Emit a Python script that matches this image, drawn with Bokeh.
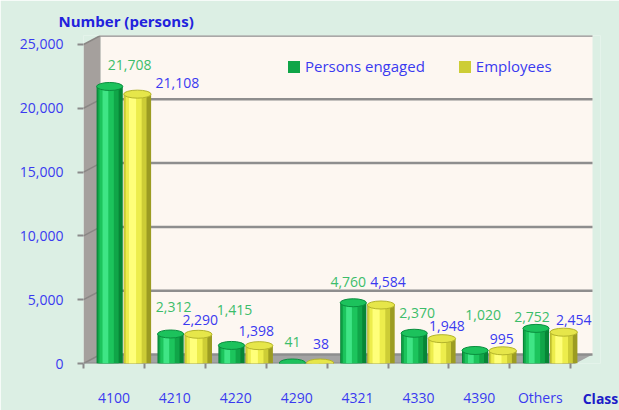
from bokeh.plotting import figure
from bokeh.models import (ColumnDataSource, Range1d, FixedTicker, NumeralTickFormatter,
                          Legend, LegendItem)
from bokeh.transform import dodge
from bokeh.embed import file_html
from bokeh.resources import INLINE
from bokeh.core.properties import value

# ---------------- data ----------------
classes = ["4100", "4210", "4220", "4290", "4321", "4330", "4390", "Others"]
persons_engaged = [21708, 2312, 1415, 41, 4760, 2370, 1020, 2752]
employees = [21108, 2290, 1398, 38, 4584, 1948, 995, 2454]
y_ticks = [0, 5000, 10000, 15000, 20000, 25000]

# value-label nudges in pixels (right, up)
pe_label_dx = [20, 3, 3, 0, -5, 3, 8, -4]
pe_label_dy = [21, 27, 35, 21, 21, 20, 35, 11]
emp_label_dx = [40, 2, -3, 1, 7, 5, -1, 10]
emp_label_dy = [11, 14, 15, 19, 23, 13, 12, 12]

# ---------------- layout ----------------
W, H = 619, 410
LEFT, RIGHT, TOP, BOTTOM = 83, 600, 35, 364
CAT_PX = 60.9
PX_PER_UNIT = 64 / 5000.0
x_end = (RIGHT - LEFT) / CAT_PX
y_end = (BOTTOM - TOP) / PX_PER_UNIT
DX = 17 / CAT_PX           # 3-D depth offset (x)
DY = 9 / PX_PER_UNIT       # 3-D depth offset (y)
WALL_R = (592 - LEFT) / CAT_PX
Y_TOP = y_ticks[-1]

FONT = "Open Sans"
BG = "#dcefe4"
WALL = "#fdf7f1"
GRID = "#8e8e8e"
TXT_BLUE = "#3a3af0"
LBL_GREEN = "#3cbd6a"

p = figure(width=W, height=H, x_range=Range1d(0, x_end), y_range=Range1d(0, y_end),
           output_backend="svg", toolbar_location=None,
           min_border_left=LEFT, min_border_right=W - RIGHT,
           min_border_top=TOP, min_border_bottom=H - BOTTOM)
p.background_fill_color = BG
p.border_fill_color = BG
p.outline_line_color = None
p.xgrid.visible = False
p.ygrid.visible = False

# title (y-axis caption)
p.title.text = "Number (persons)"
p.title.align = "left"
p.title.offset = -25
p.title.standoff = 9
p.title.text_font = FONT
p.title.text_font_size = "15px"
p.title.text_font_style = "bold"
p.title.text_color = "#2222dd"

# ---------------- 3-D walls ----------------
p.quad(left=[DX], right=[WALL_R], bottom=[DY], top=[Y_TOP + DY],
       fill_color=WALL, line_color=None)
p.patch(x=[0, DX, DX, 0], y=[0, DY, Y_TOP + DY, Y_TOP],
        fill_color="#a5a09d", line_color=None)
p.patch(x=[0, DX, WALL_R, WALL_R - DX], y=[0, DY, DY, 0],
        fill_color="#a3a3a3", line_color=None)
n_t = len(y_ticks)
p.segment(x0=[DX] * n_t, y0=[t + DY for t in y_ticks], x1=[WALL_R] * n_t,
          y1=[t + DY for t in y_ticks], line_color=GRID, line_width=2.5)
p.segment(x0=[0] * n_t, y0=y_ticks, x1=[DX] * n_t, y1=[t + DY for t in y_ticks],
          line_color="#8a8684", line_width=1.5)
p.segment(x0=[0], y0=[0], x1=[WALL_R - DX], y1=[0], line_color="#8c8c8c", line_width=2)

# ---------------- cylinders ----------------
idx = list(range(len(classes)))
G_OFF, G_W = 0.43, 0.43
Y_OFF, Y_W = 0.885, 0.45

src = ColumnDataSource(dict(
    gx=[i + G_OFF for i in idx], yx=[i + Y_OFF for i in idx],
    pe=persons_engaged, emp=employees,
    pe_txt=[f"{v:,}" for v in persons_engaged],
    emp_txt=[f"{v:,}" for v in employees],
    pe_dx=pe_label_dx, pe_dy=[-d for d in pe_label_dy],
    emp_dx=emp_label_dx, emp_dy=[-d for d in emp_label_dy],
))

def cylinder(xcol, ycol, width, shades, cap, cap_line):
    rs = []
    for rw, sh, col in shades:
        rs.append(p.vbar(x=dodge(xcol, sh, range=p.x_range), top=ycol, bottom=0,
                         width=width * rw, source=src, fill_color=col, line_color=None))
    p.ellipse(x=xcol, y=ycol, width=width, height=8, height_units="screen",
              source=src, fill_color=cap, line_color=cap_line, line_width=1)
    return rs

ry = cylinder("yx", "emp", Y_W,
              [(1.0, 0.0, "#9c9c22"), (0.82, -0.035, "#cdcd36"),
               (0.58, -0.06, "#eded4c"), (0.26, -0.08, "#ffff7a")],
              "#e6e64a", "#b4b42c")
rg = cylinder("gx", "pe", G_W,
              [(1.0, 0.0, "#078536"), (0.80, -0.025, "#10a548"),
               (0.55, -0.05, "#1cc45c"), (0.22, -0.07, "#3fe585")],
              "#1cc25c", "#0a8e3e")

# ---------------- value labels ----------------
p.text(x="gx", y="pe", text="pe_txt", x_offset="pe_dx", y_offset="pe_dy", source=src,
       text_font=value(FONT), text_font_size="14px", text_color=LBL_GREEN,
       text_align="center", text_baseline="middle")
p.text(x="yx", y="emp", text="emp_txt", x_offset="emp_dx", y_offset="emp_dy", source=src,
       text_font=value(FONT), text_font_size="14px", text_color=TXT_BLUE,
       text_align="center", text_baseline="middle")

# ---------------- axes ----------------
xa = p.xaxis[0]
centers = [i + 0.5 for i in idx]
xa.ticker = FixedTicker(ticks=centers, minor_ticks=list(range(len(classes) + 1)))
xa.major_label_overrides = {c: name for c, name in zip(centers, classes)}
xa.axis_label = "Class"
xa.axis_label_align = "end"
xa.axis_label_standoff = -21
xa.axis_label_text_font = FONT
xa.axis_label_text_font_size = "14px"
xa.axis_label_text_font_style = "bold"
xa.axis_label_text_color = "#1c1cc8"
xa.major_tick_line_color = None
xa.major_tick_out = 0
xa.major_tick_in = 0
xa.minor_tick_line_color = "#8a8a8a"
xa.minor_tick_line_width = 2
xa.minor_tick_out = 5
xa.minor_tick_in = 0
xa.axis_line_color = None
xa.major_label_standoff = 19
xa.major_label_text_font = FONT
xa.major_label_text_font_size = "14px"
xa.major_label_text_color = TXT_BLUE

ya = p.yaxis[0]
ya.ticker = FixedTicker(ticks=y_ticks)
ya.formatter = NumeralTickFormatter(format="0,0")
ya.minor_tick_line_color = None
ya.major_tick_line_color = "#8a8a8a"
ya.major_tick_line_width = 2
ya.major_tick_out = 6
ya.major_tick_in = 0
ya.axis_line_color = None
ya.major_label_standoff = 14
ya.major_label_text_font = FONT
ya.major_label_text_font_size = "14px"
ya.major_label_text_color = TXT_BLUE

# ---------------- legend ----------------
legend = Legend(items=[LegendItem(label="Persons engaged", renderers=[rg[1]]),
                       LegendItem(label="Employees", renderers=[ry[1]])],
                location=(203, 287), orientation="horizontal",
                background_fill_alpha=0, border_line_color=None,
                padding=0, margin=0, spacing=32, label_standoff=4,
                glyph_width=15, glyph_height=15,
                label_text_font=FONT, label_text_font_size="15px",
                label_text_color=TXT_BLUE)
p.add_layout(legend)

open("out.html", "w").write(file_html(p, INLINE))
